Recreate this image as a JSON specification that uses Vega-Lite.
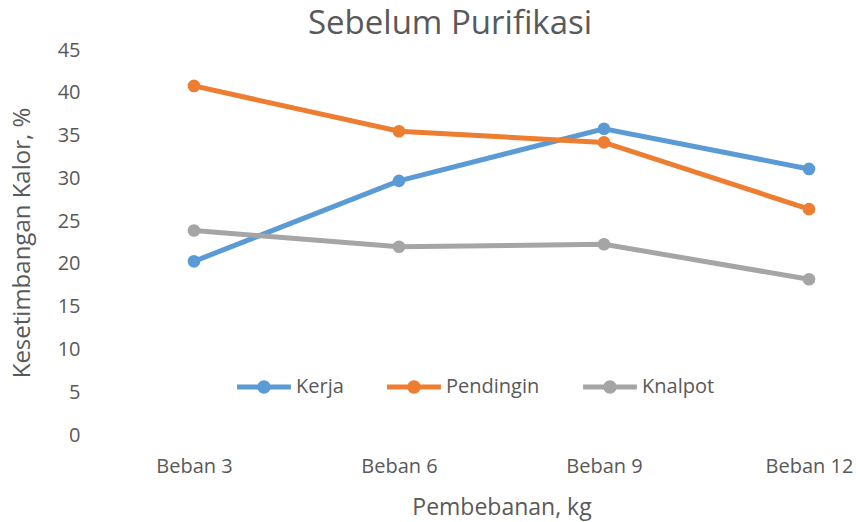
{
  "$schema": "https://vega.github.io/schema/vega-lite/v6.json",
  "autosize": "none",
  "width": 770,
  "height": 385,
  "padding": {"left": 90, "top": 50, "right": 0, "bottom": 87},
  "background": "white",
  "config": {
    "font": "Open Sans",
    "view": {"stroke": null},
    "title": {"color": "#595959", "fontSize": 33, "fontWeight": "normal"}
  },
  "title": {"text": "Sebelum Purifikasi", "anchor": "middle", "offset": -1, "dx": -25},
  "data": {
    "values": [
      {"beban": "Beban 3", "seri": "Kerja", "nilai": 20.3},
      {"beban": "Beban 6", "seri": "Kerja", "nilai": 29.7},
      {"beban": "Beban 9", "seri": "Kerja", "nilai": 35.8},
      {"beban": "Beban 12", "seri": "Kerja", "nilai": 31.1},
      {"beban": "Beban 3", "seri": "Pendingin", "nilai": 40.8},
      {"beban": "Beban 6", "seri": "Pendingin", "nilai": 35.5},
      {"beban": "Beban 9", "seri": "Pendingin", "nilai": 34.2},
      {"beban": "Beban 12", "seri": "Pendingin", "nilai": 26.4},
      {"beban": "Beban 3", "seri": "Knalpot", "nilai": 23.9},
      {"beban": "Beban 6", "seri": "Knalpot", "nilai": 22.0},
      {"beban": "Beban 9", "seri": "Knalpot", "nilai": 22.3},
      {"beban": "Beban 12", "seri": "Knalpot", "nilai": 18.2}
    ]
  },
  "mark": {"type": "line", "strokeWidth": 5, "strokeCap": "round", "point": {"filled": true, "size": 160}},
  "encoding": {
    "x": {
      "field": "beban", "type": "ordinal",
      "sort": ["Beban 3", "Beban 6", "Beban 9", "Beban 12"],
      "scale": {"type": "point", "range": [104, 719], "padding": 0},
      "axis": {
        "title": "Pembebanan, kg", "titleFontSize": 23, "titleFontWeight": "normal", "titleColor": "#595959",
        "titlePadding": 20,
        "labelAngle": 0, "labelFontSize": 20, "labelColor": "#595959", "labelPadding": 21,
        "domain": false, "ticks": false, "grid": false
      }
    },
    "y": {
      "field": "nilai", "type": "quantitative",
      "scale": {"domain": [0, 45], "nice": false},
      "axis": {
        "title": "Kesetimbangan Kalor, %", "titleFontSize": 24, "titleFontWeight": "normal", "titleColor": "#595959",
        "titlePadding": 23,
        "values": [0, 5, 10, 15, 20, 25, 30, 35, 40, 45],
        "labelFontSize": 20, "labelColor": "#595959", "labelPadding": 10,
        "domain": false, "ticks": false, "grid": false
      }
    },
    "color": {
      "field": "seri", "type": "nominal",
      "sort": ["Kerja", "Pendingin", "Knalpot"],
      "scale": {"domain": ["Kerja", "Pendingin", "Knalpot"], "range": ["#5B9BD5", "#ED7D31", "#A5A5A5"]},
      "legend": {
        "title": null, "orient": "none", "direction": "horizontal",
        "legendX": 147, "legendY": 310,
        "symbolType": "M-1,-0.09L1,-0.09L1,0.09L-1,0.09Z M-0.25,0A0.25,0.25 0 1,1 0.25,0A0.25,0.25 0 1,1 -0.25,0Z",
        "symbolSize": 2900, "symbolStrokeWidth": 0,
        "labelFontSize": 20, "labelColor": "#595959", "labelOffset": 5,
        "columnPadding": 43,
        "encode": {"symbols": {"update": {"fill": {"scale": "color", "field": "value"}, "strokeWidth": {"value": 0}, "opacity": {"value": 1}}}}
      }
    }
  }
}
